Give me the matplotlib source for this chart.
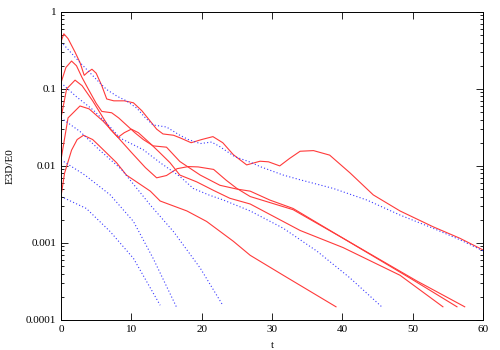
import matplotlib
matplotlib.use('Agg')
import matplotlib.pyplot as plt
from matplotlib.ticker import FixedLocator, FuncFormatter, LogLocator, NullFormatter

# red (solid) runs
r1_t = [0, 0.4, 1.0, 2.0, 2.7, 3.3, 3.8, 4.4, 5.0, 5.8, 6.5, 7.5, 9.0, 10.3, 11.5, 12.7, 13.6, 14.5,
        16.0, 17.0, 18.5, 20.0, 21.6, 23.0, 24.5, 26.4, 28.3, 29.5, 31.1, 32.5, 34.0, 35.9, 38.2,
        41.1, 44.4, 48.2, 52.9, 56.7, 60]
r1_e = [0.41, 0.52, 0.45, 0.30, 0.22, 0.15, 0.165, 0.18, 0.16, 0.11, 0.074, 0.070, 0.070, 0.066,
        0.052, 0.038, 0.030, 0.026, 0.025, 0.023, 0.020, 0.022, 0.024, 0.020, 0.014, 0.0103,
        0.0115, 0.0113, 0.0100, 0.0125, 0.0155, 0.0158, 0.0138, 0.0081, 0.0042, 0.0026, 0.00162,
        0.00115, 0.00081]

r2_t = [0, 0.7, 1.5, 2.2, 3.0, 4.0, 5.0, 5.8, 7.2, 8.2, 9.3, 10.5, 11.7, 13.1, 15.0, 16.9, 19.8,
        22.6, 25.0, 26.9, 29.7, 33.0, 40.1, 50.6, 57.4]
r2_e = [0.12, 0.19, 0.23, 0.20, 0.14, 0.095, 0.065, 0.051, 0.049, 0.042, 0.034, 0.027, 0.022,
        0.0182, 0.0175, 0.0114, 0.0076, 0.0056, 0.0050, 0.0047, 0.0036, 0.0028, 0.00115, 0.00032,
        0.000148]

r3_t = [0, 0.8, 2.0, 3.0, 4.5, 6.0, 7.0, 8.1, 9.0, 10.0, 11.0, 12.7, 14.0, 15.5, 16.9, 19.3,
        21.7, 24.0, 26.9, 34.0, 40.1, 48.2, 54.3]
r3_e = [0.042, 0.10, 0.13, 0.11, 0.07, 0.042, 0.030, 0.0235, 0.027, 0.030, 0.027, 0.0195, 0.015,
        0.011, 0.0076, 0.0062, 0.0048, 0.0038, 0.0032, 0.00145, 0.00087, 0.00038, 0.000148]

r4_t = [0, 1.0, 2.7, 4.0, 6.0, 8.0, 10.0, 12.0, 13.6, 15.0, 16.5, 18.1, 19.5, 21.7, 23.5, 25.0,
        26.9, 33.0, 40.1, 49.6, 56.3]
r4_e = [0.012, 0.042, 0.06, 0.055, 0.038, 0.024, 0.015, 0.0095, 0.0070, 0.0075, 0.0092, 0.0098,
        0.0097, 0.0090, 0.0065, 0.0051, 0.0040, 0.0027, 0.00115, 0.00035, 0.000148]

r5_t = [0, 0.5, 1.5, 2.3, 3.2, 4.5, 5.5, 7.9, 9.3, 10.3, 12.7, 14.1, 17.9, 20.7, 24.5, 26.9, 31.6,
        39.1]
r5_e = [0.004, 0.008, 0.016, 0.022, 0.025, 0.022, 0.018, 0.011, 0.0076, 0.0066, 0.0047, 0.0035,
        0.0026, 0.0019, 0.00105, 0.00069, 0.00038, 0.000148]

# blue (dotted) runs
b1_t = [0, 2.7, 5.5, 6.5, 8.0, 9.3, 10.8, 12.0, 13.1, 15.0, 16.9, 18.1, 19.8, 21.4, 22.5, 24.7,
        26.9, 28.3, 31.6, 34.0, 38.7, 43.5, 48.2, 52.9, 56.7, 60]
b1_e = [0.41, 0.22, 0.12, 0.098, 0.080, 0.070, 0.056, 0.042, 0.034, 0.032, 0.025, 0.022, 0.0195,
        0.0204, 0.018, 0.0132, 0.0112, 0.0098, 0.0076, 0.0066, 0.0051, 0.0036, 0.0023, 0.00155,
        0.0011, 0.00079]

b2_t = [0, 2.2, 4.6, 7.0, 8.4, 11.7, 14.1, 16.9, 18.8, 21.0, 23.1, 26.9, 31.6, 36.4, 41.1, 45.6]
b2_e = [0.12, 0.079, 0.053, 0.032, 0.023, 0.0162, 0.011, 0.0073, 0.0051, 0.0042, 0.0036, 0.0026,
        0.00155, 0.00078, 0.00035, 0.000148]

b3_t = [0, 2.7, 5.5, 8.6, 12.7, 16.0, 19.8, 23.0]
b3_e = [0.042, 0.028, 0.016, 0.009, 0.0031, 0.0014, 0.00047, 0.000155]

b4_t = [0, 3.4, 7.0, 10.3, 13.1, 16.4]
b4_e = [0.012, 0.0076, 0.0042, 0.0019, 0.00063, 0.000148]

b5_t = [0, 3.6, 7.0, 10.3, 14.1]
b5_e = [0.004, 0.0028, 0.0014, 0.00063, 0.000155]

red_runs = [(r1_t, r1_e), (r2_t, r2_e), (r3_t, r3_e), (r4_t, r4_e), (r5_t, r5_e)]
blue_runs = [(b1_t, b1_e), (b2_t, b2_e), (b3_t, b3_e), (b4_t, b4_e), (b5_t, b5_e)]

plt.rcParams['font.family'] = ['Liberation Serif', 'DejaVu Serif']

fig = plt.figure(figsize=(5, 3.5), dpi=100)
ax = fig.add_axes([0.122, 0.086, 0.844, 0.880])

for t, e in red_runs:
    ax.plot(t, e, color='#ff3a3a', lw=0.8)
for t, e in blue_runs:
    ax.plot(t, e, color='#3a3aff', lw=0.8, ls=(0, (1, 2)))

ax.set_yscale('log')
ax.set_xlim(0, 60)
ax.set_ylim(0.0001, 1)
ax.xaxis.set_major_locator(FixedLocator([0, 10, 20, 30, 40, 50, 60]))
ax.yaxis.set_major_locator(FixedLocator([0.0001, 0.001, 0.01, 0.1, 1]))
ax.yaxis.set_major_formatter(FuncFormatter(lambda v, p: f'{v:g}'))
ax.yaxis.set_minor_locator(LogLocator(base=10, subs=range(2, 10)))
ax.yaxis.set_minor_formatter(NullFormatter())
ax.tick_params(which='both', direction='in', top=True, right=True, labelsize=8, width=0.6)
ax.tick_params(which='major', length=5)
ax.tick_params(which='minor', length=2.5)
for s in ax.spines.values():
    s.set_linewidth(0.7)

ax.set_xlabel('t', fontsize=8, labelpad=5)
ax.set_ylabel('E3D/E0', fontsize=8, labelpad=8)

fig.savefig('out.png', dpi=100)
